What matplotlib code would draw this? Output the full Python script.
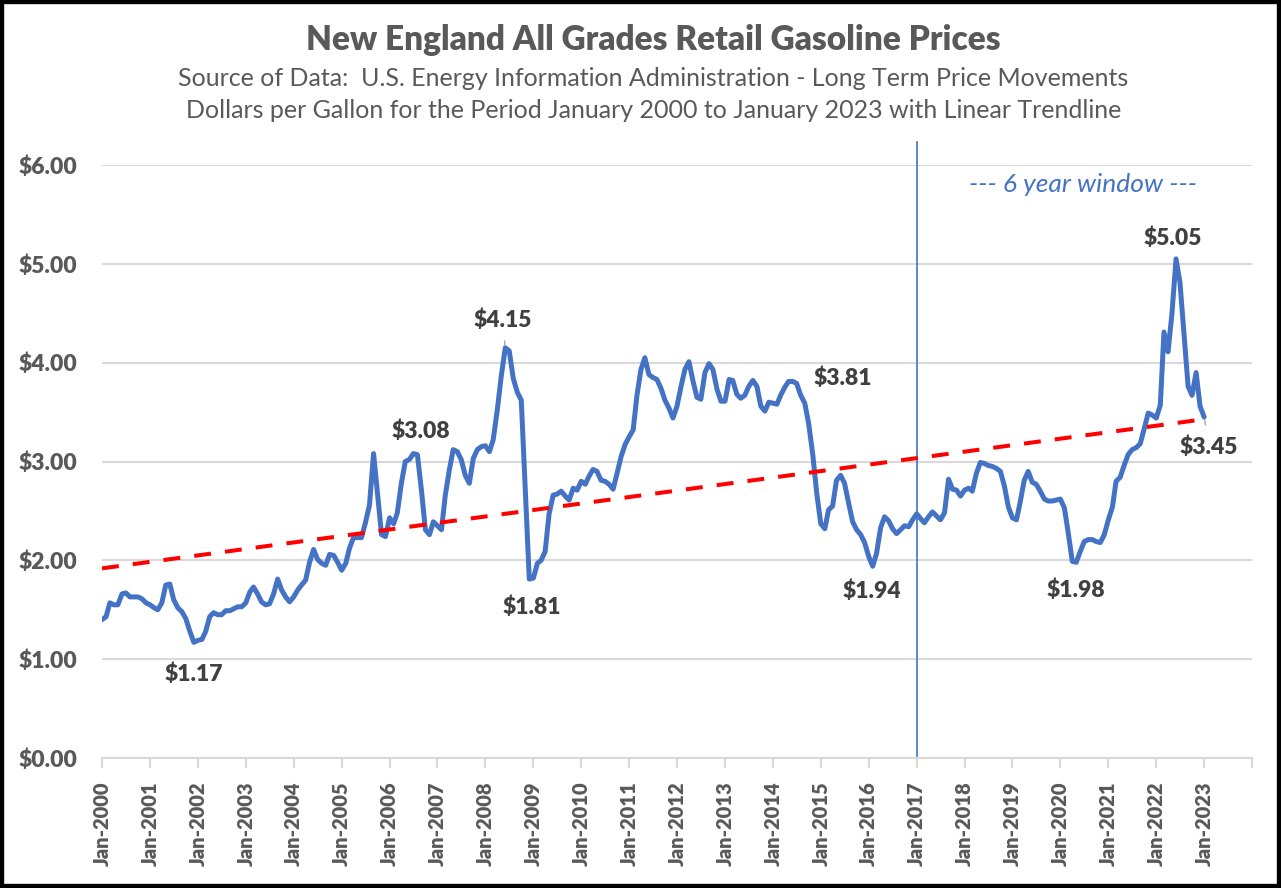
import numpy as np
import pandas as pd
import matplotlib
matplotlib.use('Agg')
import matplotlib.pyplot as plt
import matplotlib.dates as mdates
from matplotlib.patches import Rectangle

plt.rcParams['font.family'] = ['Lato', 'DejaVu Sans']

# monthly New England all grades retail price, $/gal, Jan 2000 .. Jan 2023
p2000 = [1.40, 1.43, 1.57, 1.55, 1.55, 1.66, 1.67, 1.63, 1.63, 1.63, 1.61, 1.57]
p2001 = [1.55, 1.52, 1.50, 1.57, 1.75, 1.76, 1.60, 1.52, 1.48, 1.41, 1.28, 1.17]
p2002 = [1.19, 1.20, 1.28, 1.43, 1.47, 1.45, 1.45, 1.49, 1.49, 1.51, 1.53, 1.53]
p2003 = [1.57, 1.68, 1.73, 1.66, 1.58, 1.55, 1.56, 1.66, 1.81, 1.70, 1.63, 1.58]
p2004 = [1.63, 1.70, 1.75, 1.80, 1.98, 2.11, 2.01, 1.97, 1.95, 2.06, 2.05, 1.98]
p2005 = [1.90, 1.97, 2.12, 2.23, 2.23, 2.23, 2.38, 2.56, 3.08, 2.68, 2.26, 2.24]
p2006 = [2.43, 2.37, 2.48, 2.78, 3.00, 3.02, 3.08, 3.07, 2.71, 2.31, 2.26, 2.39]
p2007 = [2.35, 2.31, 2.65, 2.91, 3.12, 3.10, 3.02, 2.86, 2.78, 3.03, 3.12, 3.15]
p2008 = [3.16, 3.10, 3.22, 3.52, 3.86, 4.15, 4.12, 3.84, 3.70, 3.62, 2.70, 1.81]
p2009 = [1.82, 1.97, 2.00, 2.09, 2.47, 2.66, 2.67, 2.70, 2.65, 2.61, 2.73, 2.71]
p2010 = [2.80, 2.77, 2.85, 2.92, 2.90, 2.81, 2.80, 2.77, 2.72, 2.88, 3.05, 3.17]
p2011 = [3.25, 3.32, 3.66, 3.93, 4.05, 3.88, 3.85, 3.83, 3.74, 3.62, 3.54, 3.44]
p2012 = [3.56, 3.76, 3.93, 4.01, 3.82, 3.65, 3.63, 3.90, 3.99, 3.93, 3.73, 3.61]
p2013 = [3.61, 3.83, 3.82, 3.68, 3.64, 3.67, 3.76, 3.82, 3.76, 3.56, 3.51, 3.60]
p2014 = [3.59, 3.58, 3.67, 3.75, 3.81, 3.81, 3.79, 3.67, 3.59, 3.38, 3.07, 2.68]
p2015 = [2.37, 2.32, 2.51, 2.55, 2.81, 2.86, 2.78, 2.58, 2.39, 2.31, 2.26, 2.18]
p2016 = [2.04, 1.94, 2.07, 2.33, 2.44, 2.40, 2.32, 2.27, 2.31, 2.35, 2.34, 2.41]
p2017 = [2.47, 2.42, 2.38, 2.44, 2.49, 2.45, 2.41, 2.48, 2.82, 2.72, 2.71, 2.65]
p2018 = [2.71, 2.73, 2.70, 2.88, 2.99, 2.98, 2.96, 2.95, 2.93, 2.90, 2.75, 2.54]
p2019 = [2.43, 2.41, 2.59, 2.81, 2.90, 2.79, 2.77, 2.70, 2.62, 2.60, 2.60, 2.61]
p2020 = [2.62, 2.53, 2.28, 1.99, 1.98, 2.09, 2.19, 2.21, 2.21, 2.19, 2.18, 2.26]
p2021 = [2.41, 2.54, 2.80, 2.84, 2.96, 3.07, 3.12, 3.14, 3.18, 3.33, 3.49, 3.47]
p2022 = [3.44, 3.57, 4.31, 4.11, 4.50, 5.05, 4.81, 4.29, 3.76, 3.67, 3.90, 3.56]
p2023 = [3.45]

prices = (p2000 + p2001 + p2002 + p2003 + p2004 + p2005 + p2006 + p2007 + p2008 + p2009
          + p2010 + p2011 + p2012 + p2013 + p2014 + p2015 + p2016 + p2017 + p2018 + p2019
          + p2020 + p2021 + p2022 + p2023)
dates = pd.date_range('2000-01-01', periods=len(prices), freq='MS')

# months that carry a data label, and where the label sits (pixels from the point)
label_months = ['2001-12', '2006-07', '2008-06', '2008-12', '2014-05',
                '2016-02', '2020-05', '2022-06', '2023-01']
label_offsets = [(0, -32), (8, 22), (-3, 28), (2, -28), (54, 3),
                 (-1, -25), (0, -28), (-3, 21), (5, -30)]
leader_months = ['2008-06', '2023-01']

window_start = pd.Timestamp('2017-01-01')
window_text = '--- 6 year window ---'

BLUE = '#4472C4'
GRID = '#D9D9D9'
TXT = '#595959'
LBL = '#404040'
W = 'heavy'

fig = plt.figure(figsize=(12.81, 8.88), dpi=100)
ax = fig.add_axes([102 / 1281, 1 - 758 / 888, 1150 / 1281, 593 / 888])

ax.plot(dates, prices, color=BLUE, lw=3.6, solid_joinstyle='round', solid_capstyle='round', zorder=3)

# linear trendline
xn = mdates.date2num(dates)
coef = np.polyfit(xn, prices, 1)
ax.plot([dates[0], dates[-1]], np.polyval(coef, [xn[0], xn[-1]]), color='#FF0000',
        lw=2.9, linestyle=(0, (4.2, 3.5)), dash_capstyle='butt', zorder=4)

# data labels
s = pd.Series(prices, index=dates)
for m, off in zip(label_months, label_offsets):
    d = pd.Timestamp(m + '-01')
    v = s[d]
    if m in leader_months:
        ax.annotate('', xy=(d, v), xytext=(off[0] * 0.35, off[1] * 0.35), textcoords='offset pixels',
                    arrowprops=dict(arrowstyle='-', color='#A6A6A6', lw=1.0), zorder=5)
    ax.annotate('$%.2f' % v, xy=(d, v), xytext=off, textcoords='offset pixels',
                ha='center', va='center', fontsize=16.5, fontweight=W, color=LBL, zorder=6)

# 6 year window marker
ax.plot([window_start, window_start], [0, 6.23], color=BLUE, lw=1.2, clip_on=False, zorder=2)
ax.text(pd.Timestamp('2020-06-20'), 5.8, window_text, ha='center', va='center',
        fontsize=19, style='italic', color=BLUE)

ax.set_ylim(0, 6)
ax.set_yticks(np.arange(0, 7, 1))
ax.set_yticklabels(['$%.2f' % t for t in np.arange(0, 7, 1)])
ax.yaxis.grid(True, color=GRID, lw=1.5)
ax.set_axisbelow(True)

years = pd.date_range('2000-01-01', '2024-01-01', freq='YS')
ax.set_xlim(years[0], years[-1])
ax.set_xticks(years)
ax.set_xticklabels([d.strftime('Jan-%Y') for d in years[:-1]] + [''], rotation=90)

for sp in ['top', 'right', 'left']:
    ax.spines[sp].set_visible(False)
ax.spines['bottom'].set_color(GRID)
ax.spines['bottom'].set_linewidth(1.5)
ax.tick_params(axis='y', length=0, pad=18, labelsize=16.5, labelcolor=TXT)
ax.tick_params(axis='x', length=7, width=1.5, color=GRID, pad=10, labelsize=14.5, labelcolor=TXT)
for t in ax.get_xticklabels() + ax.get_yticklabels():
    t.set_fontweight(W)

fig.text(0.51, 1 - 40 / 888, 'New England All Grades Retail Gasoline Prices', ha='center', va='center',
         fontsize=24, fontweight=W, color=TXT)
fig.text(0.51, 1 - 78 / 888, 'Source of Data:  U.S. Energy Information Administration - Long Term Price Movements',
         ha='center', va='center', fontsize=18, color=TXT)
fig.text(0.51, 1 - 111 / 888, 'Dollars per Gallon for the Period January 2000 to January 2023 with Linear Trendline',
         ha='center', va='center', fontsize=18, color=TXT)

fig.add_artist(Rectangle((0, 0), 1, 1, transform=fig.transFigure, fill=False,
                         edgecolor='black', lw=6))

fig.savefig('out.png', dpi=100)
